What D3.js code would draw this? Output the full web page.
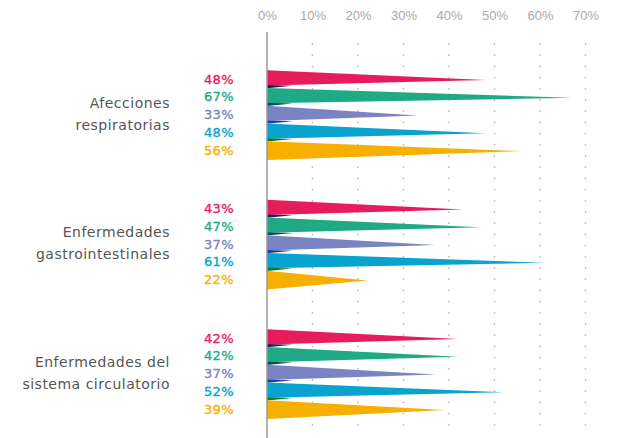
<!DOCTYPE html>
<html>
<head>
<meta charset="utf-8">
<script src="https://cdn.jsdelivr.net/npm/d3@7"></script>
<style>
    body { margin: 0; background: #fff; }
    svg { display: block; font-family: "DejaVu Sans", sans-serif; }
    .axis text { fill: #aaa; font-size: 13px; }
    .cat { fill: #555; font-size: 14px; letter-spacing: 0.5px; }
    .pct { font-size: 13px; letter-spacing: 0.4px; stroke-width: 0.35px; }
</style>
</head>
<body>
<div class="chart"></div>
<script>
// DATA //
var categories = [
    ['Afecciones', 'respiratorias'],
    ['Enfermedades', 'gastrointestinales'],
    ['Enfermedades del', 'sistema circulatorio']
];
var series = ['s1', 's2', 's3', 's4', 's5'];
var values = [
    [48, 67, 33, 48, 56],
    [43, 47, 37, 61, 22],
    [42, 42, 37, 52, 39]
];
var ticks = [0, 10, 20, 30, 40, 50, 60, 70];
var colors = ['#e61c5d', '#1fa985', '#7a84c3', '#09a3cf', '#f8b000'];
var shadows = ['#2a1c4e', '#0e4c58', '#1f3e92', '#0b7a2a', '#000'];

var width = 618, height = 438;
var margin = { top: 32, left: 267 };

var svg = d3.select('.chart').append('svg')
    .attr('width', width)
    .attr('height', height);

var x = d3.scaleLinear().domain([0, 70]).range([margin.left, 585.5]);

// group centres and row positions
var groupY = d3.scaleLinear().domain([0, 2]).range([114.6, 373.5]);
var rowStep = 17.75;
function rowY(g, i) {
    return groupY(g) + (i - 2) * rowStep;
}

// dotted grid
var dotRows = d3.range(44, 436, 11.2);
ticks.slice(1).forEach(function(t) {
    svg.append('g').selectAll('circle')
        .data(dotRows).enter()
        .append('circle')
        .attr('cx', x(t))
        .attr('cy', function(d) { return d; })
        .attr('r', 0.9)
        .attr('fill', '#bbb');
});

// top tick labels
svg.append('g')
    .attr('class', 'axis')
    .attr('transform', 'translate(0,20)')
    .call(d3.axisTop(x).tickValues(ticks).tickSize(0).tickPadding(0)
        .tickFormat(function(d) { return d + '%'; }))
    .call(function(g) { g.select('.domain').remove(); })
    .selectAll('text')
    .attr('dy', 0);

// bars
values.forEach(function(row, g) {
    var grp = svg.append('g');
    row.forEach(function(v, i) {
        var c = rowY(g, i);
        var top = c - rowStep / 2,
            bottom = c + rowStep / 2,
            last = i == row.length - 1,
            barBottom = last ? bottom + 1 : bottom - 2.5;
        grp.append('path')
            .attr('d', 'M' + x(0) + ',' + top + 'L' + x(v) + ',' + (c + 1) + 'L' + x(0) + ',' + barBottom + 'Z')
            .attr('fill', colors[i]);
        if (!last) {
            grp.append('path')
                .attr('d', 'M' + x(0) + ',' + (bottom - 3) + 'L' + (x(0) + 26) + ',' + (bottom - 2.2) + 'L' + x(0) + ',' + (bottom + 0.3) + 'Z')
                .attr('fill', shadows[i]);
        }
        svg.append('text')
            .attr('class', 'pct')
            .attr('x', 234)
            .attr('y', c + 4.6)
            .attr('text-anchor', 'end')
            .attr('fill', colors[i])
            .attr('stroke', colors[i])
            .text(v + '%');
    });

    categories[g].forEach(function(line, k) {
        svg.append('text')
            .attr('class', 'cat')
            .attr('x', 170)
            .attr('y', groupY(g) - 7 + k * 22)
            .attr('text-anchor', 'end')
            .text(line);
    });
});

// vertical axis line
svg.append('line')
    .attr('x1', x(0)).attr('x2', x(0))
    .attr('y1', margin.top).attr('y2', height)
    .attr('stroke', '#999')
    .attr('stroke-width', 1.5);
</script>
</body>
</html>
